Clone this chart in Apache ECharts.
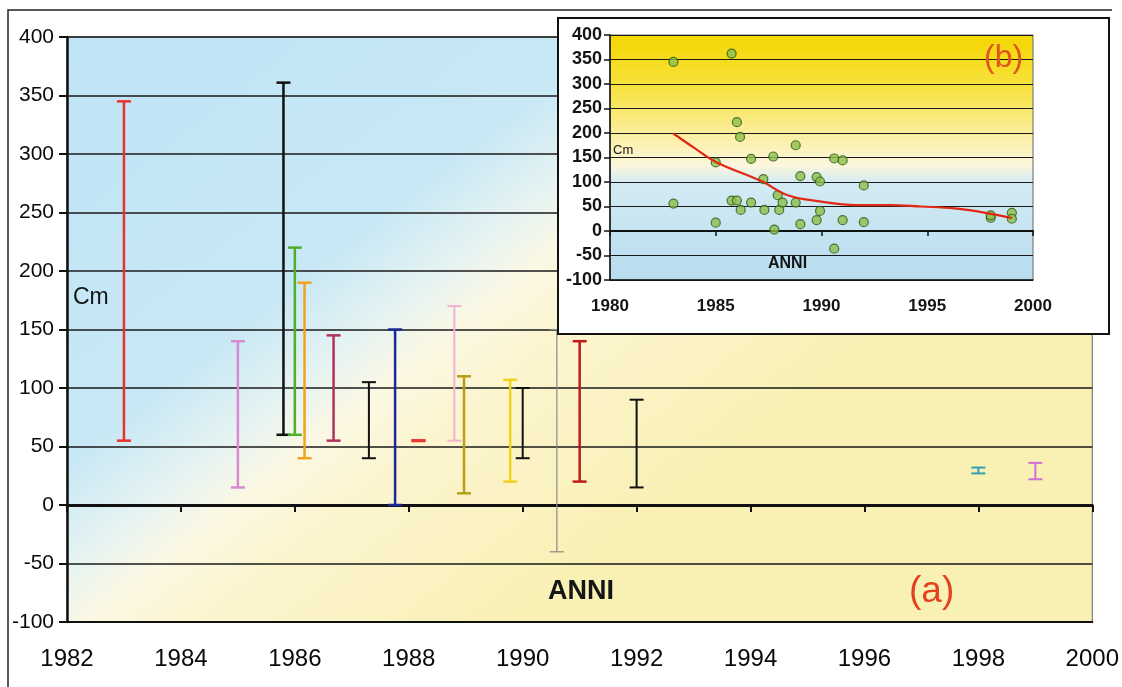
<!DOCTYPE html>
<html>
<head>
<meta charset="utf-8">
<script src="https://cdn.jsdelivr.net/npm/echarts@6/dist/echarts.min.js"></script>
<style>
html,body{margin:0;padding:0;background:#fff;}
#chart{width:1122px;height:687px;}
</style>
</head>
<body>
<div id="chart"></div>
<script>
// ---- main chart (a): min/max ranges per year ----
const barYears = [1983, 1985, 1985.8, 1986, 1986.17, 1986.68, 1987.3, 1987.76, 1988.17, 1988.8, 1988.97, 1989.78, 1990.0, 1990.6, 1991.0, 1992.0, 1998.0, 1999.0];
const barLow   = [55, 15, 60, 60, 40, 55, 40, 0, 55, 55, 10, 20, 40, -40, 20, 15, 27, 22];
const barHigh  = [345, 140, 361, 220, 190, 145, 105, 150, 55, 170, 110, 107, 100, 150, 140, 90, 32, 36];
const barColors = ['#e8322a', '#d88ad2', '#111111', '#4fae2e', '#f2a21e', '#b0325c', '#111111', '#1b2a98', '#e83a30', '#f2b2d2', '#b8a014', '#f2d21e', '#111111', '#8a8a8a', '#c01a1a', '#111111', '#2fa0b4', '#d070d4'];
const barLineWidths = [2.5, 2.5, 2.5, 2.5, 2.5, 2.5, 2, 2.5, 3, 2, 2.5, 2.5, 2, 1.2, 2.5, 2, 2, 2];

// ---- inset chart (b): scatter of the same measurements + trend ----
const insetYears  = [1983, 1983, 1985, 1985, 1985.75, 1985.75, 1986.0, 1986.0, 1986.15, 1986.18, 1986.67, 1986.67, 1987.25, 1987.3, 1987.72, 1987.77, 1987.93, 1988.0, 1988.16, 1988.78, 1988.78, 1989.0, 1989.0, 1989.77, 1989.77, 1989.93, 1989.93, 1990.6, 1990.6, 1991.0, 1991.0, 1992.0, 1992.0, 1998.0, 1998.0, 1999.0, 1999.0];
const insetValues = [345, 56, 17, 140, 362, 62, 222, 62, 192, 43, 147, 58, 106, 43, 152, 3, 73, 43, 58, 175, 58, 112, 14, 110, 22, 101, 41, 148, -36, 144, 22, 93, 18, 27, 32, 37, 25];
const trendYears  = [1983, 1984, 1985, 1987.2, 1988.4, 1990, 1991.6, 1993.2, 1994.7, 1996.3, 1997.9, 1999];
const trendValues = [199, 169, 141, 101, 73, 60, 53, 53, 50, 46, 36, 26];

// ---- axis ticks ----
const mainXTicks = { min: 1982, max: 2000, interval: 2 };
const mainYTicks = { min: -100, max: 400, interval: 50 };
const insetXTicks = { min: 1980, max: 2000, interval: 5 };
const insetYTicks = { min: -100, max: 400, interval: 50 };

const FONT = "'Liberation Sans', Arial, sans-serif";
const chart = echarts.init(document.getElementById('chart'), null, { renderer: 'canvas' });

const barData = barYears.map((y, i) => ({
  value: [y, barLow[i], barHigh[i], barLineWidths[i]],
  itemStyle: { color: barColors[i] }
}));

function renderErrorBar(params, api) {
  const x = api.value(0), lo = api.value(1), hi = api.value(2), lw = api.value(3);
  const pHi = api.coord([x, hi]);
  const pLo = api.coord([x, lo]);
  const color = api.visual('color');
  const half = 7;
  const style = { stroke: color, lineWidth: lw, fill: null };
  return {
    type: 'group',
    children: [
      { type: 'line', shape: { x1: pHi[0], y1: pHi[1], x2: pLo[0], y2: pLo[1] }, style },
      { type: 'line', shape: { x1: pHi[0] - half, y1: pHi[1], x2: pHi[0] + half, y2: pHi[1] }, style },
      { type: 'line', shape: { x1: pLo[0] - half, y1: pLo[1], x2: pLo[0] + half, y2: pLo[1] }, style }
    ]
  };
}

const mainBg = new echarts.graphic.LinearGradient(0, 0, 0.45, 1, [
  { offset: 0, color: '#bfe4f6' },
  { offset: 0.45, color: '#c8e8f5' },
  { offset: 0.56, color: '#e6f3f2' },
  { offset: 0.63, color: '#fbf8e4' },
  { offset: 0.72, color: '#fcf5d0' },
  { offset: 1, color: '#f9f0b4' }
]);
const insetBg = new echarts.graphic.LinearGradient(0, 0, 0, 1, [
  { offset: 0, color: '#f4d600' },
  { offset: 0.22, color: '#f7e240' },
  { offset: 0.4, color: '#fbee9c' },
  { offset: 0.53, color: '#fdf7dc' },
  { offset: 0.6, color: '#d4ebf3' },
  { offset: 1, color: '#b6dcef' }
]);

const option = {
  animation: false,
  backgroundColor: '#ffffff',
  grid: [
    { left: 67, top: 37, width: 1031, height: 585, show: true, backgroundColor: mainBg, borderColor: '#666', borderWidth: 1 },
    { left: 610, top: 35, width: 423, height: 245, show: true, backgroundColor: insetBg, borderColor: '#666', borderWidth: 1, zlevel: 2 }
  ],
  xAxis: [
    { gridIndex: 0, type: 'value', min: mainXTicks.min, max: mainXTicks.max, interval: mainXTicks.interval, position: 'bottom',
      axisLine: { show: true, onZero: false, lineStyle: { color: '#111', width: 2 } },
      axisTick: { show: false }, splitLine: { show: false },
      axisLabel: { show: true, margin: 25, fontFamily: FONT, fontSize: 24, color: '#0a0a0a', formatter: v => String(v) } },
    { gridIndex: 0, type: 'value', min: mainXTicks.min, max: mainXTicks.max, interval: mainXTicks.interval, position: 'bottom',
      axisLine: { show: true, onZero: true, lineStyle: { color: '#111', width: 3 } },
      axisTick: { show: true, length: 7, lineStyle: { color: '#111', width: 2 } },
      splitLine: { show: false }, axisLabel: { show: false } },
    { gridIndex: 1, type: 'value', min: insetXTicks.min, max: insetXTicks.max, interval: insetXTicks.interval, position: 'bottom', zlevel: 2,
      axisLine: { show: true, onZero: false, lineStyle: { color: '#111', width: 1.5 } },
      axisTick: { show: false }, splitLine: { show: false },
      axisLabel: { show: true, margin: 18, fontFamily: FONT, fontSize: 17, fontWeight: 'bold', color: '#151515', formatter: v => String(v) } },
    { gridIndex: 1, type: 'value', min: insetXTicks.min, max: insetXTicks.max, interval: insetXTicks.interval, position: 'bottom', zlevel: 2,
      axisLine: { show: true, onZero: true, lineStyle: { color: '#111', width: 2 } },
      axisTick: { show: true, length: 5, lineStyle: { color: '#111', width: 1.5 } },
      splitLine: { show: false }, axisLabel: { show: false } }
  ],
  yAxis: [
    { gridIndex: 0, type: 'value', min: mainYTicks.min, max: mainYTicks.max, interval: mainYTicks.interval,
      axisLine: { show: true, onZero: false, lineStyle: { color: '#111', width: 2.5 } },
      axisTick: { show: true, length: 8, lineStyle: { color: '#111', width: 2 } },
      splitLine: { show: true, lineStyle: { color: '#1a1a1a', width: 1.5 } },
      axisLabel: { margin: 13, fontFamily: FONT, fontSize: 21, color: '#0a0a0a' } },
    { gridIndex: 1, type: 'value', min: insetYTicks.min, max: insetYTicks.max, interval: insetYTicks.interval, zlevel: 2,
      axisLine: { show: true, onZero: false, lineStyle: { color: '#111', width: 1.5 } },
      axisTick: { show: true, length: 6, lineStyle: { color: '#111', width: 1.5 } },
      splitLine: { show: true, lineStyle: { color: '#1a1a1a', width: 1.2 } },
      axisLabel: { margin: 8, fontFamily: FONT, fontSize: 18, fontWeight: 'bold', color: '#151515' } }
  ],
  series: [
    { type: 'custom', name: 'range', xAxisIndex: 0, yAxisIndex: 0, renderItem: renderErrorBar,
      encode: { x: 0, y: [1, 2] }, data: barData, z: 5 },
    { type: 'scatter', name: 'Cm', xAxisIndex: 2, yAxisIndex: 1, zlevel: 2, z: 5,
      symbol: 'circle', symbolSize: 9,
      itemStyle: { color: '#8cbf4a', borderColor: '#2f5a18', borderWidth: 1.2 },
      data: insetYears.map((y, i) => [y, insetValues[i]]) },
    { type: 'line', name: 'trend', xAxisIndex: 2, yAxisIndex: 1, zlevel: 2, z: 6,
      smooth: 0.4, showSymbol: false, lineStyle: { color: '#e02814', width: 2.2 },
      data: trendYears.map((y, i) => [y, trendValues[i]]) }
  ],
  graphic: [
    { type: 'polyline', zlevel: 0, z: 50, shape: { points: [[8, 687], [8, 10], [1112, 10]] }, style: { stroke: '#222', lineWidth: 1.5, fill: null } },
    { type: 'text', zlevel: 0, z: 50, left: 73, top: 286, style: { text: 'Cm', fontFamily: FONT, fontSize: 23, fill: '#151515' } },
    { type: 'text', zlevel: 0, z: 50, left: 548, top: 578, style: { text: 'ANNI', fontFamily: FONT, fontSize: 27, fontWeight: 'bold', fill: '#151515', letterSpacing: -2 } },
    { type: 'text', zlevel: 0, z: 50, left: 909, top: 573, style: { text: '(a)', fontFamily: FONT, fontSize: 37, fill: '#e2421e' } },
    { type: 'rect', zlevel: 1, z: 0, shape: { x: 558, y: 18, width: 551, height: 316 }, style: { fill: '#ffffff', stroke: '#111', lineWidth: 2 } },
    { type: 'text', zlevel: 3, z: 50, left: 613, top: 144, style: { text: 'Cm', fontFamily: FONT, fontSize: 13, fill: '#151515' } },
    { type: 'text', zlevel: 3, z: 50, left: 768, top: 256, style: { text: 'ANNI', fontFamily: FONT, fontSize: 16, fontWeight: 'bold', fill: '#151515', letterSpacing: -1.5 } },
    { type: 'text', zlevel: 3, z: 50, left: 984, top: 42, style: { text: '(b)', fontFamily: FONT, fontSize: 32, fill: '#e0541e' } }
  ]
};
chart.setOption(option);
</script>
</body>
</html>
